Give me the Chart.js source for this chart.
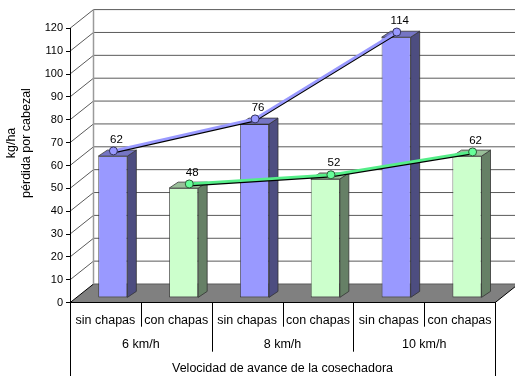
<!DOCTYPE html>
<html>
<head>
<meta charset="utf-8">
<script src="https://cdn.jsdelivr.net/npm/chart.js@4/dist/chart.umd.min.js"></script>
<style>
  html, body { margin: 0; padding: 0; background: #fff; }
  canvas { display: block; }
</style>
</head>
<body>
<canvas id="chart" width="515" height="376"></canvas>
<script>
// ---- data ----
const speeds = ['6 km/h', '8 km/h', '10 km/h'];
const variants = ['sin chapas', 'con chapas'];
const sinChapas = [62, 76, 114];
const conChapas = [48, 52, 62];
const yMin = 0, yMax = 120, yStep = 10;
const yTitle = ['kg/ha', 'pérdida por cabezal'];
const xTitle = 'Velocidad de avance de la cosechadora';

// one category per (speed, variant) pair
const categories = speeds.flatMap(() => variants);
const barValues = speeds.flatMap((_, i) => [sinChapas[i], conChapas[i]]);
const sinSeries = speeds.flatMap((_, i) => [sinChapas[i], null]);
const conSeries = speeds.flatMap((_, i) => [null, conChapas[i]]);

// ---- look ----
const FONT = 'Liberation Sans, Arial, sans-serif';
const DEPTH = { dx: 23.5, dy: -18.7 };      // depth of the 3-D box (walls / floor)
const BAR_DEPTH = { dx: 9, dy: -6 };         // depth of each column
const COLORS = {
  sin: { front: '#9999ff', side: '#4d4d80', top: '#7575c4', line: '#9999ff', point: '#9999ff', pointBorder: '#33335c' },
  con: { front: '#ccffcc', side: '#668066', top: '#99bf99', line: '#55ee88', point: '#66ff99', pointBorder: '#2e5c38' }
};
const barFront = categories.map((_, i) => i % 2 === 0 ? COLORS.sin.front : COLORS.con.front);

const depthPlugin = {
  id: 'depth3d',
  beforeDraw(chart) {
    const { ctx, chartArea: a, scales: { y } } = chart;
    const { dx, dy } = DEPTH;
    ctx.save();
    // floor slab
    ctx.beginPath();
    ctx.moveTo(a.left, a.bottom);
    ctx.lineTo(a.right, a.bottom);
    ctx.lineTo(a.right + dx, a.bottom + dy);
    ctx.lineTo(a.left + dx, a.bottom + dy);
    ctx.closePath();
    ctx.fillStyle = '#808080';
    ctx.fill();
    ctx.strokeStyle = '#000';
    ctx.lineWidth = 1;
    ctx.beginPath();
    ctx.moveTo(a.left + dx, a.bottom + dy);
    ctx.lineTo(a.left, a.bottom);
    ctx.moveTo(a.right, a.bottom);
    ctx.lineTo(a.right + dx, a.bottom + dy);
    ctx.stroke();
    // back wall grid and side wall diagonals
    ctx.strokeStyle = '#5a5a5a';
    ctx.lineWidth = 1;
    for (let v = yMin; v <= yMax; v += yStep) {
      const py = y.getPixelForValue(v);
      ctx.beginPath();
      if (v > yMin) {
        ctx.moveTo(a.left, py);
        ctx.lineTo(a.left + dx, py + dy);
      }
      ctx.moveTo(a.left + dx, py + dy);
      ctx.lineTo(a.right + dx, py + dy);
      ctx.stroke();
    }
    // back wall left edge
    ctx.strokeStyle = '#9a9a9a';
    ctx.lineWidth = 1.5;
    ctx.beginPath();
    ctx.moveTo(a.left + dx, a.top + dy);
    ctx.lineTo(a.left + dx, a.bottom + dy);
    ctx.stroke();
    ctx.restore();
  },
  beforeDatasetDraw(chart, args) {
    const ds = chart.data.datasets[args.index];
    chart.ctx.save();
    if (ds.shift) chart.ctx.translate(ds.shift[0], ds.shift[1]);
  },
  afterDatasetDraw(chart, args) {
    const ctx = chart.ctx;
    const ds = chart.data.datasets[args.index];
    if (ds.type === 'bar') {
      args.meta.data.forEach((el, i) => {
        const { x, y, base, width } = el.getProps(['x', 'y', 'base', 'width'], true);
        const c = i % 2 === 0 ? COLORS.sin : COLORS.con;
        const l = x - width / 2, r = x + width / 2;
        const { dx, dy } = BAR_DEPTH;
        ctx.lineWidth = 0.8;
        ctx.strokeStyle = '#333';
        // right side face
        ctx.beginPath();
        ctx.moveTo(r, y); ctx.lineTo(r + dx, y + dy);
        ctx.lineTo(r + dx, base + dy); ctx.lineTo(r, base);
        ctx.closePath();
        ctx.fillStyle = c.side; ctx.fill(); ctx.stroke();
        // top face
        ctx.beginPath();
        ctx.moveTo(l, y); ctx.lineTo(l + dx, y + dy);
        ctx.lineTo(r + dx, y + dy); ctx.lineTo(r, y);
        ctx.closePath();
        ctx.fillStyle = c.top; ctx.fill(); ctx.stroke();
      });
    }
    ctx.restore();
    if (ds.type === 'bar') drawValueLabels(chart);
  },
  afterDraw(chart) {
    const { ctx, chartArea: a, scales: { x } } = chart;
    ctx.save();
    ctx.strokeStyle = '#000';
    ctx.lineWidth = 1;
    const H = chart.height;
    const edge = v => Math.round(v) + 0.5;
    ctx.beginPath();
    ctx.moveTo(edge(a.left), a.bottom); ctx.lineTo(edge(a.left), H);
    ctx.moveTo(edge(a.right), a.bottom); ctx.lineTo(edge(a.right), H);
    for (let i = 1; i < categories.length; i++) {
      const px = edge((x.getPixelForValue(i - 1) + x.getPixelForValue(i)) / 2);
      const groupBreak = i % variants.length === 0;
      ctx.moveTo(px, a.bottom);
      ctx.lineTo(px, a.bottom + (groupBreak ? 49 : 24));
    }
    ctx.stroke();
    // vertical axis title (two lines)
    ctx.fillStyle = '#000';
    ctx.font = '12.5px ' + FONT;
    ctx.textAlign = 'center';
    ctx.textBaseline = 'middle';
    const cy = 143;
    [12, 27].forEach((cx, k) => {
      ctx.save();
      ctx.translate(cx, cy);
      ctx.rotate(-Math.PI / 2);
      ctx.fillText(yTitle[k], 0, 0);
      ctx.restore();
    });
    ctx.restore();
  }
};

function drawValueLabels(chart) {
  const ctx = chart.ctx;
  ctx.save();
  ctx.fillStyle = '#000';
  ctx.font = '11.5px ' + FONT;
  ctx.textAlign = 'center';
  ctx.textBaseline = 'middle';
  chart.data.datasets.forEach((ds, di) => {
    if (!ds.valueLabels) return;
    const meta = chart.getDatasetMeta(di);
    meta.data.forEach((el, i) => {
      const v = ds.data[i];
      if (v == null) return;
      ctx.fillText(String(v), el.x + ds.shift[0] + 3, el.y + ds.shift[1] - 11.5);
    });
  });
  ctx.restore();
}

const lineBase = {
  type: 'line', spanGaps: true, tension: 0, fill: false, clip: false
};

new Chart(document.getElementById('chart'), {
  type: 'bar',
  data: {
    labels: categories,
    datasets: [
      Object.assign({}, lineBase, {
        label: 'sin chapas', data: sinSeries, order: 1, shift: [8, -10], valueLabels: true,
        borderColor: COLORS.sin.line, borderWidth: 2.8,
        pointRadius: 4, pointBackgroundColor: COLORS.sin.point,
        pointBorderColor: COLORS.sin.pointBorder, pointBorderWidth: 1
      }),
      Object.assign({}, lineBase, {
        label: 'con chapas', data: conSeries, order: 1, shift: [13, -9], valueLabels: true,
        borderColor: COLORS.con.line, borderWidth: 2.8,
        pointRadius: 4, pointBackgroundColor: COLORS.con.point,
        pointBorderColor: COLORS.con.pointBorder, pointBorderWidth: 1
      }),
      Object.assign({}, lineBase, {
        label: 'sin chapas sombra', data: sinSeries, order: 2, shift: [8, -8.6],
        borderColor: '#000', borderWidth: 2.4, pointRadius: 0
      }),
      Object.assign({}, lineBase, {
        label: 'con chapas sombra', data: conSeries, order: 2, shift: [13, -7.6],
        borderColor: '#000', borderWidth: 2.4, pointRadius: 0
      }),
      {
        type: 'bar', label: 'pérdida', data: barValues, order: 3, shift: [7.4, -4.8], clip: false,
        backgroundColor: barFront, borderColor: '#333', borderWidth: 0.8, borderSkipped: false,
        categoryPercentage: 1, barPercentage: 0.41
      }
    ]
  },
  options: {
    responsive: false,
    devicePixelRatio: 1,
    animation: false,
    events: [],
    layout: { padding: { top: 28.3, right: 20, left: 0, bottom: 0 } },
    plugins: { legend: { display: false }, tooltip: { enabled: false } },
    scales: {
      y: {
        min: yMin, max: yMax,
        ticks: { stepSize: yStep, color: '#000', font: { family: FONT, size: 11 }, padding: 3 },
        grid: { drawOnChartArea: false, color: '#000', tickLength: 4 },
        border: { color: '#000', width: 1 },
        afterFit: s => { s.width = 70; }
      },
      x: {
        type: 'category', offset: true, weight: 0,
        ticks: { color: '#000', font: { family: FONT, size: 12.5 }, padding: 2.3, maxRotation: 0, autoSkip: false },
        grid: { display: false },
        border: { color: '#000', width: 1 },
        afterFit: s => { s.height = 24; }
      },
      x2: {
        type: 'category', position: 'bottom', labels: speeds, offset: true, weight: 1,
        ticks: { color: '#000', font: { family: FONT, size: 12.5 }, padding: 2.3, maxRotation: 0, autoSkip: false },
        grid: { display: false },
        border: { display: false },
        title: { display: true, text: xTitle, color: '#000', font: { family: FONT, size: 12.5 }, padding: { top: 0, bottom: 0 } },
        afterFit: s => { s.height = 49.3; }
      }
    }
  },
  plugins: [depthPlugin]
});
</script>
</body>
</html>
